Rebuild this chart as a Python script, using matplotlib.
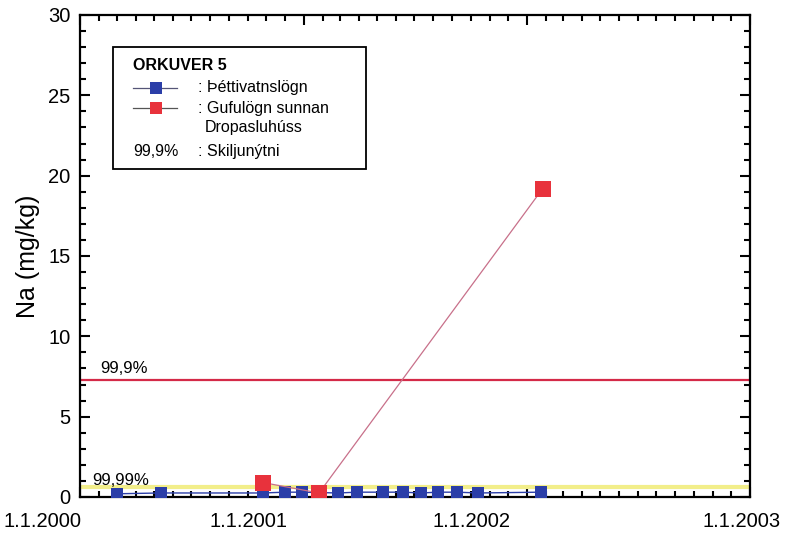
import numpy as np
import pandas as pd
import matplotlib
matplotlib.use('Agg')
import matplotlib.pyplot as plt
import matplotlib.dates as mdates
import matplotlib.transforms as mtransforms
from matplotlib.ticker import MultipleLocator
from matplotlib.patches import Rectangle

plt.rcParams['font.family'] = ['Liberation Sans', 'DejaVu Sans']

# Þéttivatnslögn (condensate line) samples
blueDates = ['2000-03-01', '2000-05-12', '2000-10-26', '2000-12-01', '2000-12-29',
             '2001-02-26', '2001-03-29', '2001-05-10', '2001-06-12', '2001-07-11',
             '2001-08-09', '2001-09-09', '2001-10-13', '2002-01-24']
blueNa = [0.2, 0.25, 0.25, 0.3, 0.3, 0.25, 0.3, 0.3, 0.3, 0.25, 0.3, 0.3, 0.25, 0.3]

# Gufulögn sunnan Dropasluhúss (steam line) samples
redDates = ['2000-10-26', '2001-01-26', '2002-01-27']
redNa = [0.9, 0.25, 19.2]

# separator efficiency limits
limit999 = 7.3
limit9999 = 0.6

yearTicks = ['2000-01-01', '2001-01-01', '2002-01-01', '2003-01-01']
yearLabels = ['1.1.2000', '1.1.2001', '1.1.2002', '1.1.2003']
labelShift = [-27, -40, -40, -6]

blueColor = '#2b3ea8'
redColor = '#e8323c'

fig = plt.figure(figsize=[7.87, 5.37], dpi=100)
ax = fig.add_axes([0.1017, 0.0745, 0.8513, 0.8976])

ax.axhline(limit999, color='#d42a48', lw=1.6, zorder=2)
ax.axhline(limit9999, color='#f2ee8a', lw=3.0, zorder=2)

ax.plot(pd.to_datetime(blueDates), blueNa, '-s', color=blueColor, lw=1.0,
        markersize=9, markeredgewidth=0, zorder=3)
ax.plot(pd.to_datetime(redDates), redNa, '-', color='#c8708a', lw=0.9, zorder=3)
ax.plot(pd.to_datetime(redDates), redNa, 's', color=redColor,
        markersize=12, markeredgewidth=0, zorder=4)

ax.text(0.03, (limit999 + 0.4) / 30, '99,9%', transform=ax.transAxes, fontsize=12)
ax.text(0.018, (limit9999 + 0.15) / 30, '99,99%', transform=ax.transAxes, fontsize=12)

# axes and ticks
ax.set_xlim(pd.Timestamp(yearTicks[0]), pd.Timestamp(yearTicks[-1]))
ax.set_ylim(0, 30)
ax.set_xticks(pd.to_datetime(yearTicks))
ax.set_xticklabels(yearLabels)
ax.xaxis.set_minor_locator(mdates.MonthLocator())
ax.yaxis.set_major_locator(MultipleLocator(5))
ax.yaxis.set_minor_locator(MultipleLocator(1))
ax.tick_params(which='both', direction='in', top=True, right=True, width=1.5, labelsize=14.5)
ax.tick_params(which='major', length=7)
ax.tick_params(which='minor', length=4)
ax.tick_params(axis='x', pad=11)
ax.tick_params(axis='y', pad=7)
for lbl, dx in zip(ax.get_xticklabels(), labelShift):
    lbl.set_transform(lbl.get_transform() +
                      mtransforms.ScaledTranslation(dx / 72, 0, fig.dpi_scale_trans))
for s in ax.spines.values():
    s.set_linewidth(1.6)

ax.set_ylabel('Na (mg/kg)', fontsize=18, labelpad=6)

# legend box
ax.add_patch(Rectangle((0.049, 0.680), 0.378, 0.254, transform=ax.transAxes,
                       fill=False, edgecolor='black', lw=1.3, zorder=6))
ax.text(0.079, 0.896, 'ORKUVER 5', transform=ax.transAxes, fontsize=11.5,
        fontweight='bold', va='center')
ax.plot([0.079, 0.145], [0.849, 0.849], '-', color='#555577', lw=0.9, transform=ax.transAxes)
ax.plot([0.113], [0.849], 's', color=blueColor, markersize=8, markeredgewidth=0,
        transform=ax.transAxes)
ax.plot([0.079, 0.145], [0.807, 0.807], '-', color='#555555', lw=0.9, transform=ax.transAxes)
ax.plot([0.113], [0.807], 's', color=redColor, markersize=8, markeredgewidth=0,
        transform=ax.transAxes)
ax.text(0.176, 0.849, ': Þéttivatnslögn', transform=ax.transAxes, fontsize=11.5, va='center')
ax.text(0.176, 0.807, ': Gufulögn sunnan', transform=ax.transAxes, fontsize=11.5, va='center')
ax.text(0.186, 0.766, 'Dropasluhúss', transform=ax.transAxes, fontsize=11.5, va='center')
ax.text(0.079, 0.716, '99,9%', transform=ax.transAxes, fontsize=11.5, va='center')
ax.text(0.176, 0.716, ': Skiljunýtni', transform=ax.transAxes, fontsize=11.5, va='center')

plt.savefig('out.png', dpi=100)
